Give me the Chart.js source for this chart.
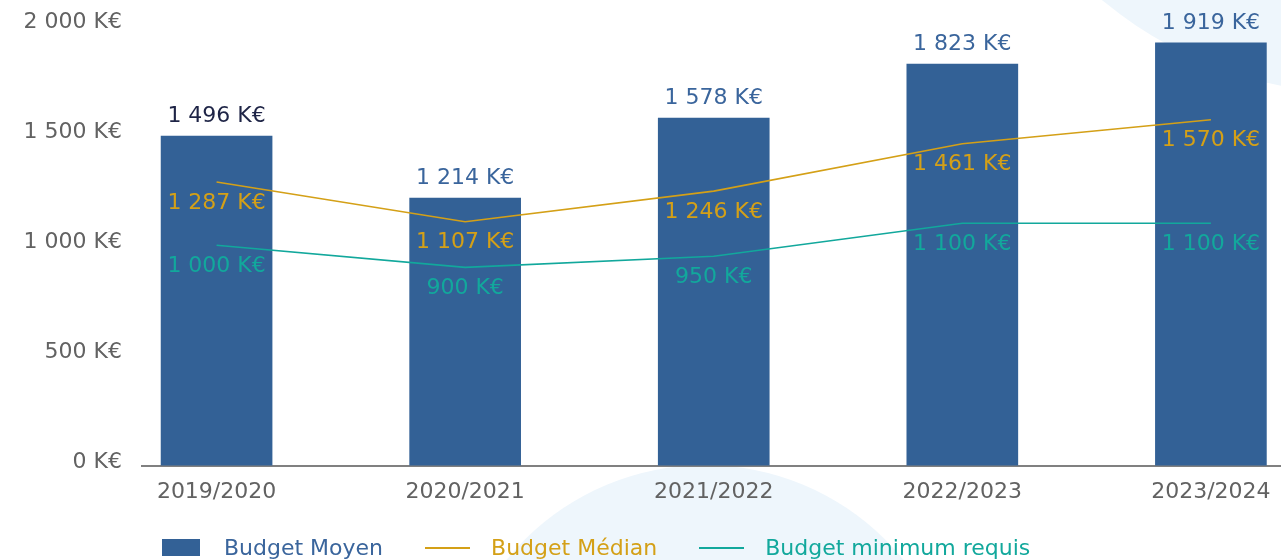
<!DOCTYPE html>
<html>
<head>
<meta charset="utf-8">
<script src="https://cdn.jsdelivr.net/npm/chart.js@4.4.1/dist/chart.umd.min.js"></script>
<style>
  html, body { margin: 0; padding: 0; background: #fff; }
  #wrap { position: relative; width: 1281px; height: 560px; overflow: hidden; }
  #chart { position: absolute; left: 0; top: 0; }
  #legend { position: absolute; left: 162px; top: 535px; display: flex; align-items: center;
            font-family: "DejaVu Sans", sans-serif; font-size: 22px; }
  .item { display: flex; align-items: center; margin-right: 42px; }
</style>
</head>
<body>
<div id="wrap">
  <canvas id="chart" width="1281" height="560"></canvas>
  <div id="legend"></div>
</div>
<script>
const categories = ['2019/2020', '2020/2021', '2021/2022', '2022/2023', '2023/2024'];
const budgetMoyen = [1496, 1214, 1578, 1823, 1919];
const budgetMedian = [1287, 1107, 1246, 1461, 1570];
const budgetMinimum = [1000, 900, 950, 1100, 1100];
const yTicks = [0, 500, 1000, 1500, 2000];
const seriesNames = ['Budget Moyen', 'Budget Médian', 'Budget minimum requis'];

const BLUE = '#336196';
const GOLD = '#d4a017';
const TEAL = '#12a89c';
const GRAY = '#626262';
const FONT = '"DejaVu Sans", sans-serif';

function fmt(v) {
    return String(v).replace(/\B(?=(\d{3})+(?!\d))/g, ' ') + ' K€';
}

function points(values) {
    return values.map((v, i) => ({ x: i, y: v }));
}

// light decorative circles behind the chart
const backdrop = {
    id: 'backdrop',
    beforeDraw(chart) {
        const ctx = chart.ctx;
        ctx.save();
        ctx.fillStyle = '#fff';
        ctx.fillRect(0, 0, chart.width, chart.height);
        ctx.fillStyle = '#eef6fc';
        ctx.beginPath();
        ctx.arc(1362, -313, 407, 0, Math.PI * 2);
        ctx.fill();
        ctx.beginPath();
        ctx.arc(705, 720, 255, 0, Math.PI * 2);
        ctx.fill();
        ctx.restore();
    }
};

// value labels above bars and below line points
const valueLabels = {
    id: 'valueLabels',
    afterDatasetsDraw(chart) {
        const ctx = chart.ctx;
        ctx.save();
        ctx.font = '22px ' + FONT;
        ctx.textAlign = 'center';
        ctx.textBaseline = 'middle';
        chart.data.datasets.forEach((ds, di) => {
            const meta = chart.getDatasetMeta(di);
            meta.data.forEach((el, i) => {
                const v = ds.data[i].y;
                if (ds.type === 'bar') {
                    ctx.fillStyle = i === 0 ? '#1e2446' : '#3a659c';
                    ctx.fillText(fmt(v), el.x, el.y - 20);
                } else {
                    ctx.fillStyle = ds.borderColor;
                    ctx.fillText(fmt(v), el.x, el.y + 21);
                }
            });
        });
        ctx.restore();
    }
};

const chart = new Chart(document.getElementById('chart'), {
    data: {
        datasets: [
            {
                type: 'bar',
                label: seriesNames[0],
                data: points(budgetMoyen),
                backgroundColor: BLUE,
                barThickness: 111,
                order: 2,
            },
            {
                type: 'line',
                label: seriesNames[1],
                data: points(budgetMedian),
                borderColor: GOLD,
                borderWidth: 1.6,
                pointRadius: 0,
                tension: 0,
                order: 1,
            },
            {
                type: 'line',
                label: seriesNames[2],
                data: points(budgetMinimum),
                borderColor: TEAL,
                borderWidth: 1.6,
                pointRadius: 0,
                tension: 0,
                order: 0,
            }
        ]
    },
    options: {
        responsive: false,
        animation: false,
        layout: { padding: { top: 25, right: 0, bottom: 42, left: 0 } },
        plugins: { legend: { display: false }, tooltip: { enabled: false } },
        scales: {
            x: {
                type: 'linear',
                offset: false,
                min: -0.3,
                max: 4.282,
                afterBuildTicks: (s) => { s.ticks = categories.map((c, i) => ({ value: i })); },
                afterFit: (s) => { s.paddingLeft = 0; s.paddingRight = 0; },
                ticks: {
                    callback: (v) => categories[v],
                    color: GRAY,
                    font: { family: FONT, size: 22 },
                    padding: 13,
                    maxRotation: 0,
                    autoSkip: false,
                },
                grid: { display: false, drawTicks: false, offset: false },
                border: { display: true, color: '#808080', width: 2 },
            },
            y: {
                min: 0,
                max: 2000,
                afterBuildTicks: (s) => { s.ticks = yTicks.map(v => ({ value: v })); },
                afterFit: (s) => { s.width = 142; s.paddingTop = 0; s.paddingBottom = 0; },
                ticks: {
                    callback: (v) => fmt(v),
                    color: GRAY,
                    font: { family: FONT, size: 22 },
                    padding: 20,
                    labelOffset: -3,
                },
                grid: { display: false, drawTicks: false },
                border: { display: false },
            }
        }
    },
    plugins: [backdrop, valueLabels]
});

// html legend built from the datasets
const legend = document.getElementById('legend');
chart.data.datasets.forEach((ds) => {
    const item = document.createElement('div');
    item.className = 'item';
    const sw = document.createElement('span');
    if (ds.type === 'bar') {
        sw.style.cssText = 'display:inline-block;width:38px;height:17px;margin-right:24px;background:' + ds.backgroundColor;
    } else {
        sw.style.cssText = 'display:inline-block;width:45px;height:2px;margin-right:21px;background:' + ds.borderColor;
    }
    const txt = document.createElement('span');
    txt.textContent = ds.label;
    txt.style.color = ds.type === 'bar' ? '#3a659c' : ds.borderColor;
    item.appendChild(sw);
    item.appendChild(txt);
    legend.appendChild(item);
});
</script>
</body>
</html>
